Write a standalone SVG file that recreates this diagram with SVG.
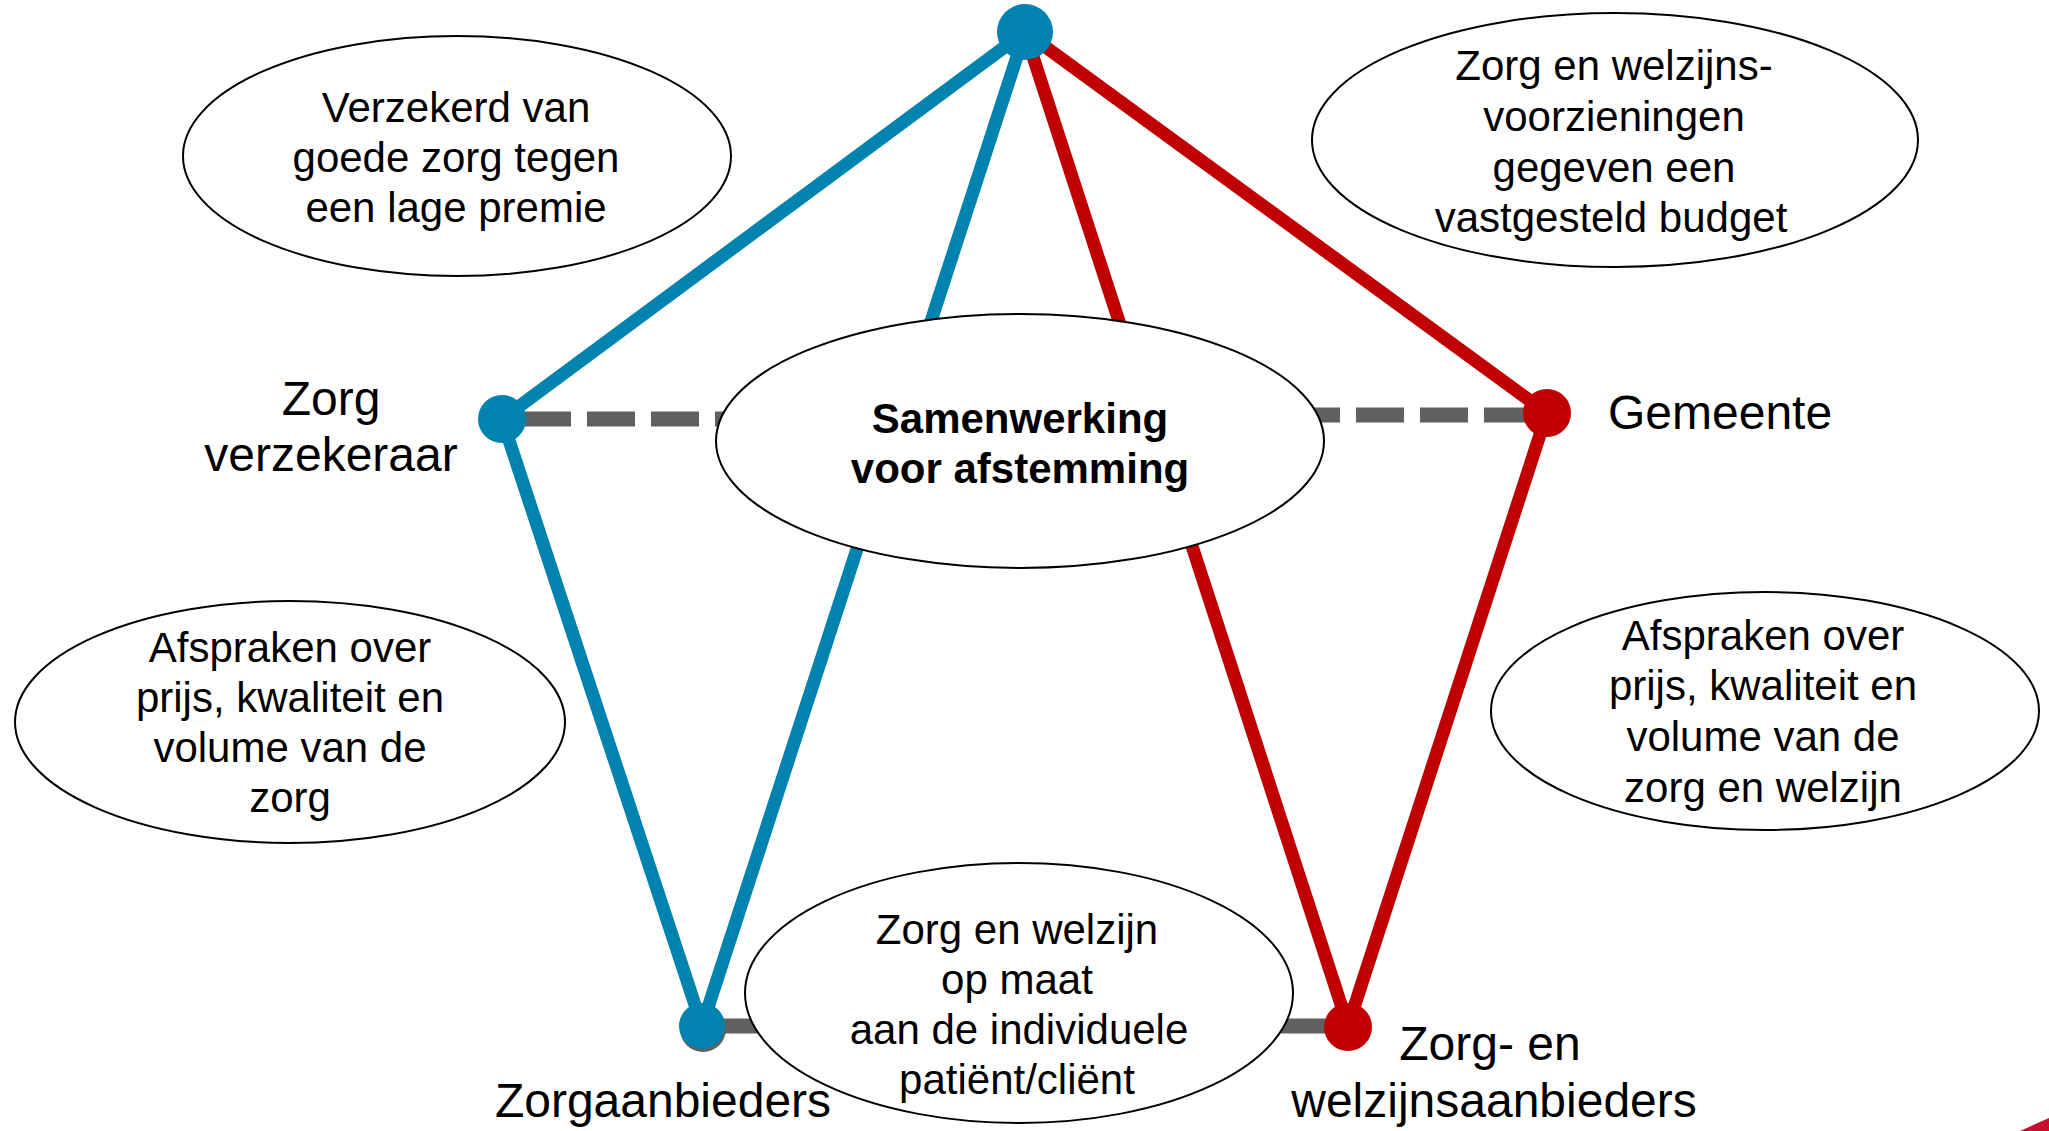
<svg xmlns="http://www.w3.org/2000/svg" width="2049" height="1131" viewBox="0 0 2049 1131">
<style>
.bg{fill:#ffffff}
.blue{stroke:#0083AF;stroke-width:13;fill:none;stroke-linecap:round}
.red{stroke:#C00000;stroke-width:13;fill:none;stroke-linecap:round}
.dash{stroke:#606060;stroke-width:15;fill:none;stroke-dasharray:48 16}
.gray{stroke:#606060;stroke-width:15;fill:none}
.bn{fill:#0083AF}
.rn{fill:#C00000}
.ell{fill:#ffffff;stroke:#000000;stroke-width:2}
.t{font-family:"Liberation Sans",Arial,sans-serif;font-size:42px;fill:#000000;text-anchor:middle}
.b{font-weight:bold}
.lbl{font-family:"Liberation Sans",Arial,sans-serif;font-size:48px;fill:#000000}
</style>
<rect class="bg" x="0" y="0" width="2049" height="1131"/>
<g id="connectors">
<path class="dash" d="M523 419 H760"/>
<path class="dash" d="M1292 415 H1547"/>
<path class="gray" d="M702 1026 H800"/>
<path class="gray" d="M1240 1026 H1348"/>
<path class="blue" d="M1025 32 L502 419"/>
<path class="blue" d="M1025 32 L702 1026"/>
<path class="blue" d="M502 419 L702 1026"/>
<path class="red" d="M1025 32 L1547 413"/>
<path class="red" d="M1025 32 L1348 1026"/>
<path class="red" d="M1547 413 L1348 1026"/>
</g>
<g id="node-top"><circle class="bn" cx="1025" cy="32" r="28"/></g>
<g id="node-zorgverzekeraar">
<circle class="bn" cx="502" cy="419" r="24"/>
<text class="lbl" x="331" y="415" text-anchor="middle">Zorg</text>
<text class="lbl" x="331" y="471" text-anchor="middle">verzekeraar</text>
</g>
<g id="node-gemeente">
<circle class="rn" cx="1547" cy="413" r="24"/>
<text class="lbl" x="1608" y="429">Gemeente</text>
</g>
<g id="node-zorgaanbieders">
<circle cx="703" cy="1029" r="23" fill="#606060"/>
<circle class="bn" cx="702" cy="1026" r="23"/>
<text class="lbl" x="663" y="1117" text-anchor="middle">Zorgaanbieders</text>
</g>
<g id="node-welzijnsaanbieders">
<circle class="rn" cx="1348" cy="1027" r="24"/>
<text class="lbl" x="1490" y="1060" text-anchor="middle">Zorg- en</text>
<text class="lbl" x="1494" y="1117" text-anchor="middle">welzijnsaanbieders</text>
</g>
<g id="ellipse-samenwerking">
<ellipse class="ell" cx="1020" cy="441" rx="304" ry="127"/>
<text class="t b" x="1020" y="433">Samenwerking</text>
<text class="t b" x="1020" y="483">voor afstemming</text>
</g>
<g id="ellipse-verzekerd">
<ellipse class="ell" cx="457" cy="156" rx="274" ry="120"/>
<text class="t" x="456" y="122">Verzekerd van</text>
<text class="t" x="456" y="172">goede zorg tegen</text>
<text class="t" x="456" y="222">een lage premie</text>
</g>
<g id="ellipse-voorzieningen">
<ellipse class="ell" cx="1615" cy="140" rx="303" ry="127"/>
<text class="t" x="1614" y="80">Zorg en welzijns-</text>
<text class="t" x="1614" y="131">voorzieningen</text>
<text class="t" x="1614" y="182">gegeven een</text>
<text class="t" x="1611" y="232">vastgesteld budget</text>
</g>
<g id="ellipse-afspraken-zorg">
<ellipse class="ell" cx="290" cy="722" rx="275" ry="121"/>
<text class="t" x="290" y="662">Afspraken over</text>
<text class="t" x="290" y="712">prijs, kwaliteit en</text>
<text class="t" x="290" y="762">volume van de</text>
<text class="t" x="290" y="812">zorg</text>
</g>
<g id="ellipse-afspraken-welzijn">
<ellipse class="ell" cx="1765" cy="711" rx="274" ry="119"/>
<text class="t" x="1763" y="650">Afspraken over</text>
<text class="t" x="1763" y="700">prijs, kwaliteit en</text>
<text class="t" x="1763" y="751">volume van de</text>
<text class="t" x="1763" y="802">zorg en welzijn</text>
</g>
<g id="ellipse-maat">
<ellipse class="ell" cx="1019" cy="993" rx="274" ry="130"/>
<text class="t" x="1017" y="944">Zorg en welzijn</text>
<text class="t" x="1017" y="994">op maat</text>
<text class="t" x="1019" y="1044">aan de individuele</text>
<text class="t" x="1017" y="1094">patiënt/cliënt</text>
</g>
<polygon points="2020,1131 2049,1118 2049,1131" fill="#C8102E"/>
</svg>
